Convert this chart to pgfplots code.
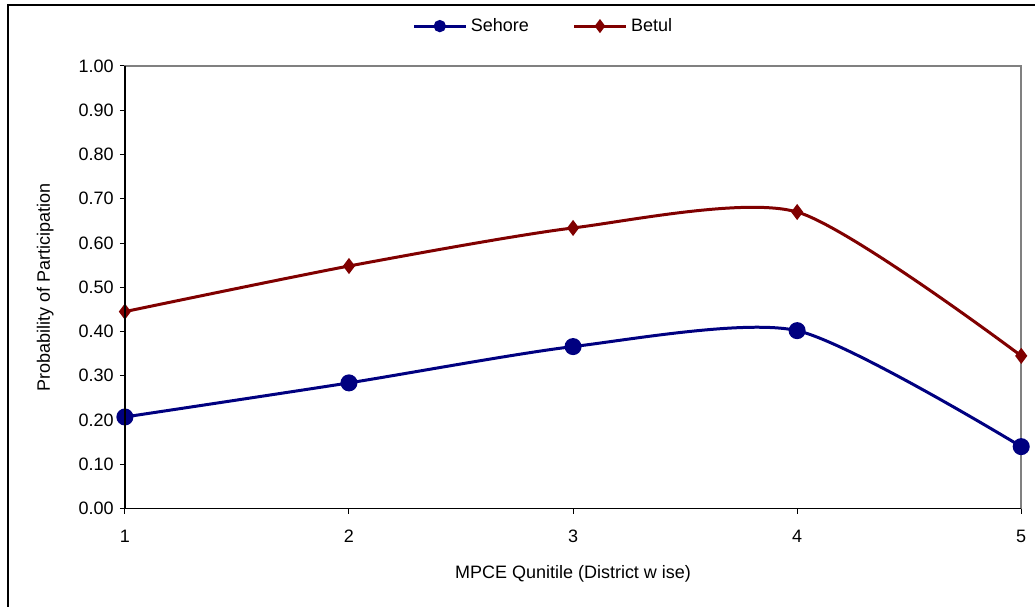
\documentclass[border=0pt]{standalone}
\usepackage{pgfplots}
\pgfplotsset{compat=1.18}
\usepackage{fontspec}
\setmainfont{Liberation Sans}
\definecolor{sehore}{HTML}{000080}
\definecolor{betul}{HTML}{800000}
\begin{document}
\fontsize{9pt}{11pt}\selectfont
\begin{tikzpicture}
\path (0,0) rectangle (518pt,303.5pt);
\draw[line width=0.8pt] (4pt,0) -- (4pt,301pt) -- (518pt,301pt);
\begin{axis}[
  at={(62.5pt,49pt)}, anchor=south west,
  scale only axis, width=448.5pt, height=221.5pt,
  xmin=1, xmax=5, ymin=0, ymax=1,
  xtick={1,2,3,4,5},
  ytick={0,0.1,...,1.01},
  yticklabel style={/pgf/number format/.cd, fixed, fixed zerofill, precision=2, assume math mode=true},
  xticklabel style={/pgf/number format/assume math mode=true, yshift=-5pt},
  tick align=outside,
  major tick length=2.5pt,
  tick style={black, line width=0.5pt},
  xtick pos=bottom, ytick pos=left,
  axis line style={draw=gray, line width=0.8pt},
  after end axis/.code={\draw[black, line width=0.6pt] (rel axis cs:0,1) -- (rel axis cs:0,0) -- (rel axis cs:1,0);},
  xlabel={MPCE Qunitile (District w ise)},
  ylabel={Probability of Participation},
  xlabel style={at={(axis description cs:0.5,-0.147)}, anchor=center},
  ylabel style={at={(axis description cs:-0.089,0.5)}, anchor=center},
  legend columns=2,
  legend style={at={(axis description cs:0.468,1.09)}, anchor=center, draw=none, fill=none,
    /tikz/every even column/.append style={column sep=20pt}},
  legend image code/.code={\draw[mark repeat=2,mark phase=2,#1,mark size=2.3pt] plot coordinates {(0cm,0cm) (0.45cm,0cm) (0.9cm,0cm)};},
]
\addplot[sehore, line width=1.5pt, smooth, tension=0.42, mark=*, mark size=3.5pt, mark options={solid}] coordinates {
(1,0.207) (2,0.284) (3,0.366) (4,0.402) (5,0.140)};
\addlegendentry{Sehore}
\addplot[betul, line width=1.5pt, smooth, tension=0.42, mark=diamond*, mark size=2.8pt, mark options={solid}] coordinates {
(1,0.445) (2,0.548) (3,0.634) (4,0.670) (5,0.345)};
\addlegendentry{Betul}
\end{axis}
\end{tikzpicture}
\end{document}
